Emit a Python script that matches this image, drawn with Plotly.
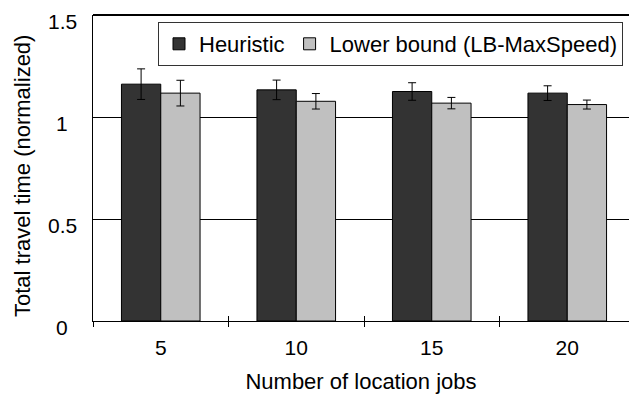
import plotly.graph_objects as go

categories = ["5", "10", "15", "20"]
heuristic = [1.161, 1.133, 1.125, 1.117]
heuristic_err = [0.075, 0.048, 0.043, 0.036]
lower_bound = [1.117, 1.077, 1.068, 1.061]
lower_bound_err = [0.063, 0.038, 0.028, 0.022]
y_ticks = [0, 0.5, 1, 1.5]
y_tick_text = ["0", "0.5", "1", "1.5"]
boundaries = [0.5, 1.5, 2.5]

FONT = "Liberation Sans, Arial, sans-serif"
W, H = 629, 394
L, T, B = 93, 15, 73
cat_px = 135.5
x_max = -0.5 + (W - L) / cat_px

fig = go.Figure()
fig.add_trace(go.Bar(
    name="Heuristic", x=categories, y=heuristic,
    marker=dict(color="#333333", line=dict(color="black", width=1)),
    error_y=dict(type="data", array=heuristic_err, color="black", thickness=1, width=4),
))
fig.add_trace(go.Bar(
    name="Lower bound (LB-MaxSpeed)", x=categories, y=lower_bound,
    marker=dict(color="#c0c0c0", line=dict(color="black", width=1)),
    error_y=dict(type="data", array=lower_bound_err, color="black", thickness=1, width=4),
))
fig.add_trace(go.Scatter(x=[], y=[], xaxis="x2", showlegend=False, hoverinfo="skip"))

annotations = [
    dict(text=t, x=0, xref="paper", y=v, yref="y", xanchor="center", yanchor="middle",
         xshift=-31, yshift=-6, showarrow=False, font=dict(family=FONT, size=21, color="black"))
    for v, t in zip(y_ticks, y_tick_text)
]
annotations.append(dict(
    text="Total travel time (normalized)", x=0, xref="paper", y=0.5, yref="paper",
    xanchor="center", yanchor="middle", xshift=-71, yshift=-8, textangle=-90,
    showarrow=False, font=dict(family=FONT, size=22, color="black"),
))

fig.update_layout(
    width=W, height=H,
    margin=dict(l=L, r=0, t=T, b=B, pad=0),
    paper_bgcolor="white", plot_bgcolor="white",
    font=dict(family=FONT, size=21, color="black"),
    barmode="group", bargap=0.42, bargroupgap=0,
    showlegend=True,
    legend=dict(
        orientation="h", x=(158 - L) / (W - L), y=(H - B - 22) / (H - B - T),
        xanchor="left", yanchor="top",
        bgcolor="white", bordercolor="#333333", borderwidth=1,
        font=dict(family=FONT, size=22, color="black"),
        itemwidth=30, traceorder="normal",
    ),
    xaxis=dict(
        type="category", range=[-0.5, x_max],
        showline=True, linecolor="black", linewidth=1,
        ticks="outside", ticklen=5, tickcolor="black", tickson="boundaries",
        showgrid=False, zeroline=False,
        tickfont=dict(size=21),
        ticklabelstandoff=8,
        title=dict(text="Number of location jobs", font=dict(size=22), standoff=15),
    ),
    xaxis2=dict(
        overlaying="x", anchor="y", range=[-0.5, x_max],
        tickvals=boundaries, ticks="inside", ticklen=5, tickcolor="black",
        showticklabels=False, showgrid=False, zeroline=False, showline=False,
    ),
    yaxis=dict(
        range=[0, 1.5], tickvals=y_ticks,
        showline=True, linecolor="black", linewidth=1,
        showgrid=True, gridcolor="black", gridwidth=1,
        zeroline=False, ticks="", showticklabels=False,
    ),
    annotations=annotations,
    shapes=[dict(type="line", xref="paper", yref="paper", x0=0, x1=1, y0=1, y1=1,
                 line=dict(color="black", width=2))],
)

fig.write_html("out.html")
